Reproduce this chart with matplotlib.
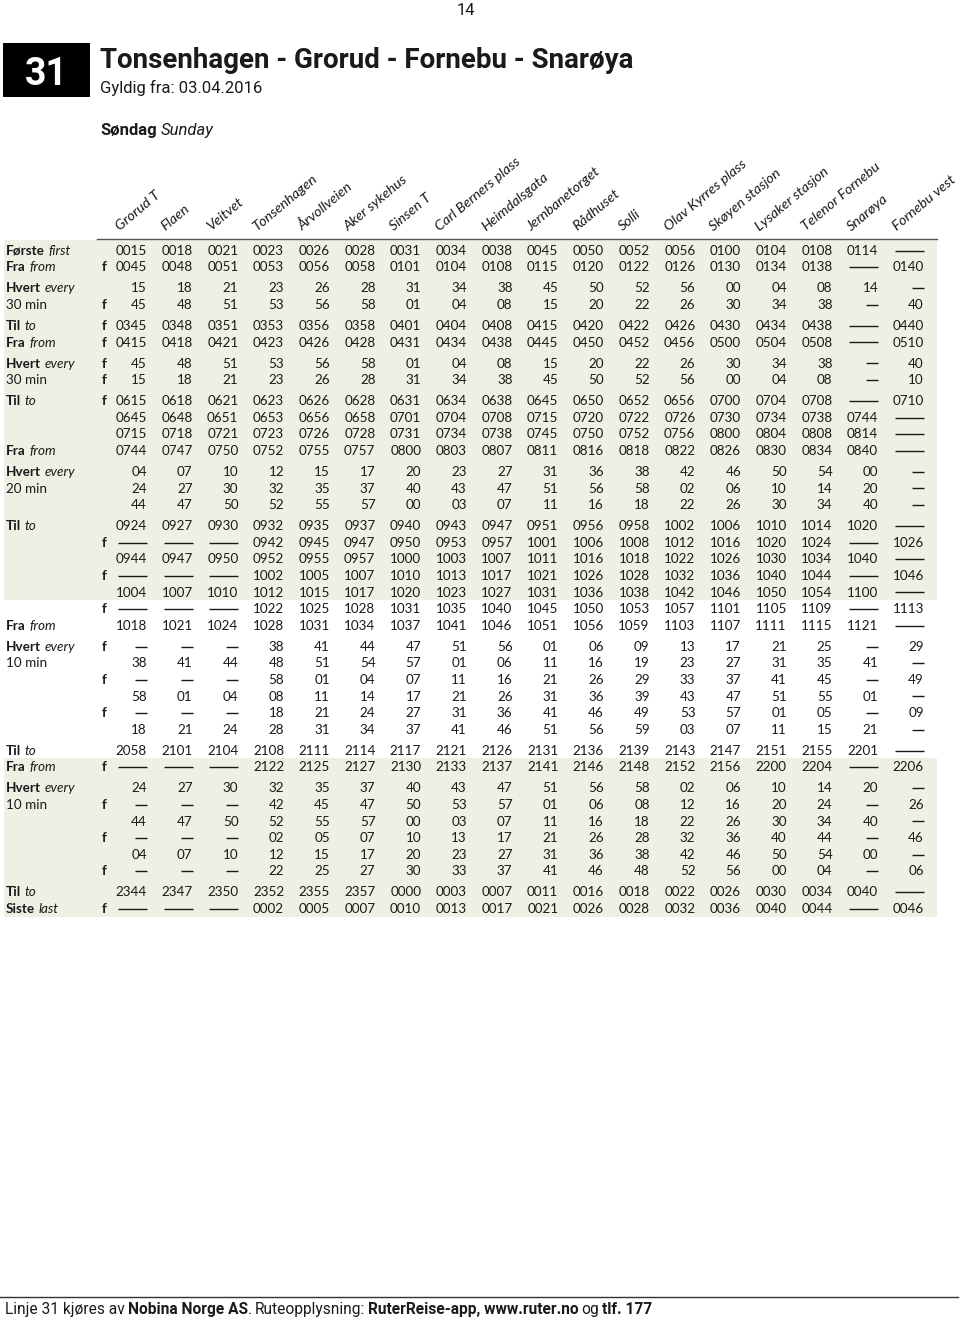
import matplotlib.pyplot as plt

# stops along the route (column headers)
stops = ["Grorud T", "Flaen", "Veitvet", "Tonsenhagen", "Årvollveien",
         "Aker sykehus", "Sinsen T", "Carl Berners plass", "Heimdalsgata",
         "Jernbanetorget", "Rådhuset", "Solli", "Olav Kyrres plass",
         "Skøyen stasjon", "Lysaker stasjon", "Telenor Fornebu", "Snarøya",
         "Fornebu vest"]

# timetable blocks: row labels ("bold|italic"), f-flags, departure times ("-" = no stop)
first_labels = ["Første|first", "Fra|from"]
first_f = [0, 1]
first_times = [
    "0015 0018 0021 0023 0026 0028 0031 0034 0038 0045 0050 0052 0056 0100 0104 0108 0114 -",
    "0045 0048 0051 0053 0056 0058 0101 0104 0108 0115 0120 0122 0126 0130 0134 0138 - 0140",
]

every30a_labels = ["Hvert|every", "30 min"]
every30a_f = [0, 1]
every30a_times = [
    "15 18 21 23 26 28 31 34 38 45 50 52 56 00 04 08 14 -",
    "45 48 51 53 56 58 01 04 08 15 20 22 26 30 34 38 - 40",
]

night_labels = ["Til|to", "Fra|from"]
night_f = [1, 1]
night_times = [
    "0345 0348 0351 0353 0356 0358 0401 0404 0408 0415 0420 0422 0426 0430 0434 0438 - 0440",
    "0415 0418 0421 0423 0426 0428 0431 0434 0438 0445 0450 0452 0456 0500 0504 0508 - 0510",
]

every30b_labels = ["Hvert|every", "30 min"]
every30b_f = [1, 1]
every30b_times = [
    "45 48 51 53 56 58 01 04 08 15 20 22 26 30 34 38 - 40",
    "15 18 21 23 26 28 31 34 38 45 50 52 56 00 04 08 - 10",
]

morning_labels = ["Til|to", "", "", "Fra|from"]
morning_f = [1, 0, 0, 0]
morning_times = [
    "0615 0618 0621 0623 0626 0628 0631 0634 0638 0645 0650 0652 0656 0700 0704 0708 - 0710",
    "0645 0648 0651 0653 0656 0658 0701 0704 0708 0715 0720 0722 0726 0730 0734 0738 0744 -",
    "0715 0718 0721 0723 0726 0728 0731 0734 0738 0745 0750 0752 0756 0800 0804 0808 0814 -",
    "0744 0747 0750 0752 0755 0757 0800 0803 0807 0811 0816 0818 0822 0826 0830 0834 0840 -",
]

every20_labels = ["Hvert|every", "20 min", ""]
every20_f = [0, 0, 0]
every20_times = [
    "04 07 10 12 15 17 20 23 27 31 36 38 42 46 50 54 00 -",
    "24 27 30 32 35 37 40 43 47 51 56 58 02 06 10 14 20 -",
    "44 47 50 52 55 57 00 03 07 11 16 18 22 26 30 34 40 -",
]

forenoon_labels = ["Til|to", "", "", "", "", "", "Fra|from"]
forenoon_f = [0, 1, 0, 1, 0, 1, 0]
forenoon_times = [
    "0924 0927 0930 0932 0935 0937 0940 0943 0947 0951 0956 0958 1002 1006 1010 1014 1020 -",
    "- - - 0942 0945 0947 0950 0953 0957 1001 1006 1008 1012 1016 1020 1024 - 1026",
    "0944 0947 0950 0952 0955 0957 1000 1003 1007 1011 1016 1018 1022 1026 1030 1034 1040 -",
    "- - - 1002 1005 1007 1010 1013 1017 1021 1026 1028 1032 1036 1040 1044 - 1046",
    "1004 1007 1010 1012 1015 1017 1020 1023 1027 1031 1036 1038 1042 1046 1050 1054 1100 -",
    "- - - 1022 1025 1028 1031 1035 1040 1045 1050 1053 1057 1101 1105 1109 - 1113",
    "1018 1021 1024 1028 1031 1034 1037 1041 1046 1051 1056 1059 1103 1107 1111 1115 1121 -",
]

every10a_labels = ["Hvert|every", "10 min", "", "", "", ""]
every10a_f = [1, 0, 1, 0, 1, 0]
every10a_times = [
    "- - - 38 41 44 47 51 56 01 06 09 13 17 21 25 - 29",
    "38 41 44 48 51 54 57 01 06 11 16 19 23 27 31 35 41 -",
    "- - - 58 01 04 07 11 16 21 26 29 33 37 41 45 - 49",
    "58 01 04 08 11 14 17 21 26 31 36 39 43 47 51 55 01 -",
    "- - - 18 21 24 27 31 36 41 46 49 53 57 01 05 - 09",
    "18 21 24 28 31 34 37 41 46 51 56 59 03 07 11 15 21 -",
]

evening_labels = ["Til|to", "Fra|from"]
evening_f = [0, 1]
evening_times = [
    "2058 2101 2104 2108 2111 2114 2117 2121 2126 2131 2136 2139 2143 2147 2151 2155 2201 -",
    "- - - 2122 2125 2127 2130 2133 2137 2141 2146 2148 2152 2156 2200 2204 - 2206",
]

every10b_labels = ["Hvert|every", "10 min", "", "", "", ""]
every10b_f = [0, 1, 0, 1, 0, 1]
every10b_times = [
    "24 27 30 32 35 37 40 43 47 51 56 58 02 06 10 14 20 -",
    "- - - 42 45 47 50 53 57 01 06 08 12 16 20 24 - 26",
    "44 47 50 52 55 57 00 03 07 11 16 18 22 26 30 34 40 -",
    "- - - 02 05 07 10 13 17 21 26 28 32 36 40 44 - 46",
    "04 07 10 12 15 17 20 23 27 31 36 38 42 46 50 54 00 -",
    "- - - 22 25 27 30 33 37 41 46 48 52 56 00 04 - 06",
]

last_labels = ["Til|to", "Siste|last"]
last_f = [0, 1]
last_times = [
    "2344 2347 2350 2352 2355 2357 0000 0003 0007 0011 0016 0018 0022 0026 0030 0034 0040 -",
    "- - - 0002 0005 0007 0010 0013 0017 0021 0026 0028 0032 0036 0040 0044 - 0046",
]

groups = [
    (first_labels, first_f, first_times),
    (every30a_labels, every30a_f, every30a_times),
    (night_labels, night_f, night_times),
    (every30b_labels, every30b_f, every30b_times),
    (morning_labels, morning_f, morning_times),
    (every20_labels, every20_f, every20_times),
    (forenoon_labels, forenoon_f, forenoon_times),
    (every10a_labels, every10a_f, every10a_times),
    (evening_labels, evening_f, evening_times),
    (every10b_labels, every10b_f, every10b_times),
    (last_labels, last_f, last_times),
]

ink = "#1a1a1a"
green = "#edf1e3"
tab_font = "Lato"
tab_size = 9.7
head_font = "Roboto"

fig = plt.figure(figsize=(9.6, 13.22), dpi=100)
ax = fig.add_axes([0, 0, 1, 1])
ax.set_xlim(0, 960)
ax.set_ylim(1322, 0)
ax.axis("off")
renderer = fig.canvas.get_renderer()


def chain(x, y, pieces, size, family):
    # draw text pieces one after another on a common baseline
    for txt, weight, style, gap in pieces:
        x += gap
        t = ax.text(x, y, txt, fontsize=size, family=family, fontweight=weight,
                    fontstyle=style, va="baseline", ha="left", color=ink)
        x += t.get_window_extent(renderer).width
    return x


# page header
ax.text(466, 15, "14", fontsize=12, family=head_font, ha="center",
        va="baseline", color=ink)
ax.add_patch(plt.Rectangle((3, 43), 87, 54, color="black", lw=0))
ax.text(46.5, 85, "31", fontsize=27, family=head_font, fontweight="bold",
        color="white", ha="center", va="baseline")
ax.text(100, 68, "Tonsenhagen - Grorud - Fornebu - Snarøya", fontsize=20,
        family=head_font, fontweight="bold", color=ink, va="baseline")
ax.text(100, 92.5, "Gyldig fra: 03.04.2016", fontsize=12, family=head_font,
        color=ink, va="baseline")
chain(100, 135, [("Søndag", "bold", "normal", 0), ("Sunday", "normal", "italic", 4)],
      12, head_font)

# column geometry
col_step = 45.7
col_right = [147 + i * col_step for i in range(len(stops))]

for i, name in enumerate(stops):
    ax.text(col_right[i] - 27, 231, name, fontsize=10.4, family=tab_font,
            fontstyle="italic", rotation=40, rotation_mode="anchor",
            ha="left", va="baseline", color=ink)

# row positions
row_step = 16.6
group_gap = 4.4
row_y = []
y = 250
for labels, flags, times in groups:
    ys = []
    for _ in times:
        ys.append(y)
        y += row_step
    row_y.append(ys)
    y += group_gap

# green shading
ax.add_patch(plt.Rectangle((4, 240), 933, row_y[6][4] + 8.3 - 240,
                           color=green, lw=0, zorder=0))
top2 = row_y[8][0] + 8.3
ax.add_patch(plt.Rectangle((4, top2), 933, row_y[10][1] + 9 - top2,
                           color=green, lw=0, zorder=0))
ax.plot([97, 937], [238.5, 238.5], color="#555555", lw=1.0)

for (labels, flags, times), ys in zip(groups, row_y):
    for label, f, line, yy in zip(labels, flags, times, ys):
        base = yy + 4.8
        if "|" in label:
            b, it = label.split("|")
            chain(6, base, [(b, "bold", "normal", 0), (it, "normal", "italic", 3.5)],
                  tab_size, tab_font)
        elif label:
            ax.text(6, base, label, fontsize=tab_size, family=tab_font,
                    va="baseline", color=ink)
        if f:
            ax.text(104, base, "f", fontsize=tab_size, family=tab_font,
                    fontweight="bold", ha="center", va="baseline", color=ink)
        vals = line.split()
        long_row = any(len(v) == 4 for v in vals)
        for c, v in enumerate(vals):
            r = col_right[c]
            if v == "-":
                w = 29 if long_row else 12
                ax.plot([r - w, r], [yy + 0.5, yy + 0.5], color=ink, lw=1.0,
                        solid_capstyle="butt")
            else:
                ax.text(r, base, v, fontsize=tab_size, family=tab_font,
                        ha="right", va="baseline", color=ink)

# footer
ax.plot([0, 958], [1296.5, 1296.5], color="#333333", lw=1.0)
chain(5, 1314, [
    ("Linje 31 kjøres av", "normal", "normal", 0),
    ("Nobina Norge AS", "bold", "normal", 3),
    (".", "normal", "normal", 0),
    ("Ruteopplysning:", "normal", "normal", 3),
    ("RuterReise-app, www.ruter.no", "bold", "normal", 3),
    ("og", "normal", "normal", 3),
    ("tlf. 177", "bold", "normal", 3),
], 11.2, head_font)

fig.savefig("out.png", dpi=100)
